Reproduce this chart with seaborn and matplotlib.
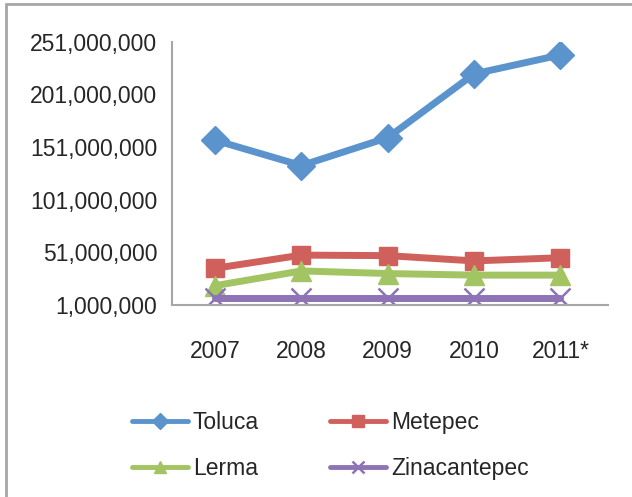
import pandas as pd
import matplotlib
matplotlib.use("Agg")
import matplotlib.pyplot as plt
from matplotlib.lines import Line2D
from matplotlib.patches import Rectangle
from matplotlib.ticker import FuncFormatter
import seaborn as sns

# -------------------- DATA --------------------
years = ["2007", "2008", "2009", "2010", "2011*"]
toluca = [157_500_000, 133_500_000, 160_000_000, 220_500_000, 238_500_000]
metepec = [36_000_000, 48_500_000, 48_000_000, 43_000_000, 46_000_000]
lerma = [19_500_000, 33_500_000, 31_000_000, 29_500_000, 29_500_000]
zinacantepec = [8_000_000, 8_000_000, 8_000_000, 8_000_000, 8_000_000]
y_ticks = [1_000_000, 51_000_000, 101_000_000, 151_000_000, 201_000_000, 251_000_000]
# ----------------------------------------------

sns.set_style("white")
plt.rcParams['font.family'] = ['Liberation Sans', 'DejaVu Sans']
fs = 16.5

series = [
    ("Toluca", toluca, "#5B93CD", "D", 14, 1),
    ("Metepec", metepec, "#D0605B", "s", 13, 1),
    ("Lerma", lerma, "#A3C462", "^", 14, 1),
    ("Zinacantepec", zinacantepec, "#8E73B5", "x", 14, 1.8),
]

fig = plt.figure(figsize=(6.32, 4.97), dpi=100)
ax = fig.add_axes([0.272, 0.386, 0.690, 0.530])

for name, vals, col, mk, ms, mew in series:
    df = pd.DataFrame({"year": years, "value": vals})
    sns.lineplot(data=df, x="year", y="value", ax=ax, color=col, linewidth=5,
                 marker=mk, markersize=ms, markeredgecolor=col, markerfacecolor=col,
                 markeredgewidth=mew, sort=False, legend=False)

ax.set_xlim(-0.5, 4.55)
ax.set_ylim(1_000_000, 251_000_000)
ax.set_yticks(y_ticks)
ax.yaxis.set_major_formatter(FuncFormatter(lambda v, p: f"{v:,.0f}"))
ax.set_xlabel("")
ax.set_ylabel("")
ax.tick_params(axis="y", length=0, pad=10.5, labelsize=fs)
ax.tick_params(axis="x", length=0, pad=25, labelsize=fs)

for s in ["top", "right"]:
    ax.spines[s].set_visible(False)
for s in ["left", "bottom"]:
    ax.spines[s].set_color("#A6A6A6")
    ax.spines[s].set_linewidth(1.5)

# legend in row order: Toluca, Metepec / Lerma, Zinacantepec
leg_order = [0, 2, 1, 3]
leg_ms = {"D": 8, "s": 9, "^": 9, "x": 8}
handles = []
labels = []
for i in leg_order:
    name, vals, col, mk, ms, mew = series[i]
    handles.append(Line2D([0], [0], color=col, lw=3.5, marker=mk, markersize=leg_ms[mk],
                          markeredgecolor=col, markerfacecolor=col, markeredgewidth=mew))
    labels.append(name)
fig.legend(handles, labels, ncol=2, loc="upper left", bbox_to_anchor=(0.19, 0.196),
           frameon=False, fontsize=fs, handlelength=2.45, handletextpad=0.22,
           columnspacing=3.1, labelspacing=1.0, borderpad=0)

# outer chart border (cropped on right and bottom)
fig.add_artist(Rectangle((6 / 632, -0.1), 1.2, 1.1 - 4 / 497, transform=fig.transFigure,
                         fill=False, edgecolor="#A6A6A6", linewidth=2))

fig.savefig("out.png", dpi=100)
